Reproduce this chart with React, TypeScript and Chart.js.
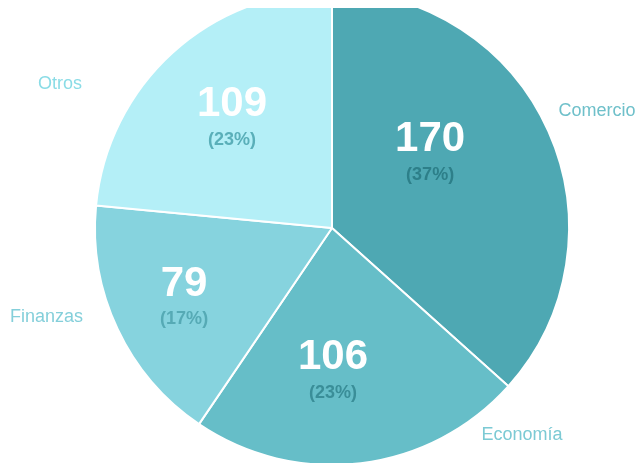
import { useEffect, useRef } from "react";
import { Chart, registerables } from "chart.js";

Chart.register(...registerables);

const categories = ["Comercio", "Economía", "Finanzas", "Otros"];
const values = [170, 106, 79, 109];
const sliceColors = ["#4EA8B3", "#66BEC8", "#86D3DE", "#B4EFF7"];
const percentColors = ["#2D7F89", "#3A8E98", "#56AAB5", "#5AAFB9"];
const nameColors = ["#6FC0CA", "#7CCAD4", "#84CFDA", "#8ADCE6"];

// label placement relative to the pie centre, in units of the pie radius
const valueLabelPos: [number, number][] = [
  [0.414, -0.372],
  [0.004, 0.547],
  [-0.624, 0.236],
  [-0.422, -0.523],
];
const percentGap = 0.15;
const nameLabelPos: [number, number][] = [
  [1.118, -0.494],
  [0.802, 0.873],
  [-1.205, 0.376],
  [-1.148, -0.608],
];

const FONT = "'Liberation Sans', Arial, Helvetica, sans-serif";

const labelPlugin = {
  id: "sliceLabels",
  afterDatasetsDraw(chart: any) {
    const ctx = chart.ctx as CanvasRenderingContext2D;
    const meta = chart.getDatasetMeta(0);
    const total = values.reduce((a, b) => a + b, 0);
    ctx.save();
    ctx.textAlign = "center";
    ctx.textBaseline = "middle";
    meta.data.forEach((arc: any, i: number) => {
      const { x, y, outerRadius } = arc.getProps(["x", "y", "outerRadius"], true);
      const r = outerRadius;
      const [vx, vy] = valueLabelPos[i];
      ctx.fillStyle = "#FFFFFF";
      ctx.font = `bold 42px ${FONT}`;
      ctx.fillText(String(values[i]), x + vx * r, y + vy * r);
      ctx.fillStyle = percentColors[i];
      ctx.font = `bold 18px ${FONT}`;
      const pct = Math.round((values[i] / total) * 100);
      ctx.fillText(`(${pct}%)`, x + vx * r, y + (vy + percentGap) * r);
      const [nx, ny] = nameLabelPos[i];
      ctx.fillStyle = nameColors[i];
      ctx.font = `18px ${FONT}`;
      ctx.fillText(categories[i], x + nx * r, y + ny * r);
    });
    ctx.restore();
  },
};

export default function App() {
  const ref = useRef<HTMLCanvasElement | null>(null);
  useEffect(() => {
    if (!ref.current) return;
    const chart = new Chart(ref.current, {
      type: "pie",
      data: {
        labels: categories,
        datasets: [
          {
            data: values,
            backgroundColor: sliceColors,
            borderColor: "#FFFFFF",
            borderWidth: 2,
          },
        ],
      },
      options: {
        animation: false,
        responsive: true,
        maintainAspectRatio: false,
        layout: { padding: { left: 28, right: 0, top: 0, bottom: 0 } },
        plugins: {
          legend: { display: false },
          tooltip: { enabled: false },
        },
      },
      plugins: [labelPlugin],
    });
    return () => chart.destroy();
  }, []);
  return (
    <div
      style={{
        position: "absolute",
        top: 8,
        left: 0,
        width: 636,
        height: 455,
        overflow: "hidden",
        background: "#FFFFFF",
      }}
    >
      <div style={{ position: "relative", top: -18, width: 636, height: 476 }}>
        <canvas ref={ref} />
      </div>
    </div>
  );
}
